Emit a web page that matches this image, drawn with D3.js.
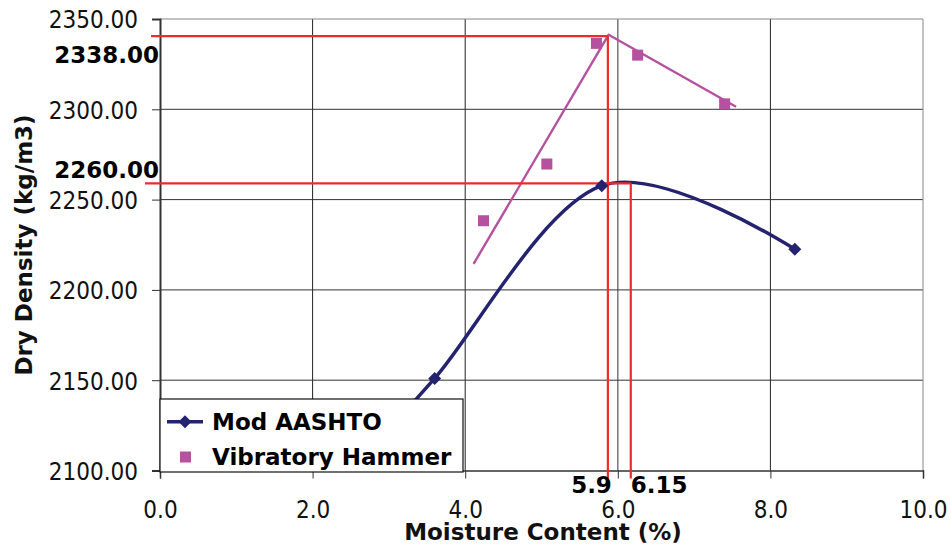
<!DOCTYPE html>
<html>
<head>
<meta charset="utf-8">
<script src="https://cdn.jsdelivr.net/npm/d3@7"></script>
<style>
  html, body { margin: 0; padding: 0; background: #fff; }
  svg { display: block; }
  text { font-family: "DejaVu Sans Condensed", "DejaVu Sans", sans-serif; font-stretch: condensed; }
  text.bold { font-family: "DejaVu Sans", sans-serif; font-stretch: normal; font-weight: bold; font-size: 23px; }
</style>
</head>
<body>
<svg id="chart" width="951" height="551"></svg>
<script>
// ---- data ----
const xTicks = [0, 2, 4, 6, 8, 10];
const yTicks = [2100, 2150, 2200, 2250, 2300, 2350];

const modX = [2.6, 3.6, 5.79, 8.32];
const modY = [2105, 2151, 2257.7, 2222.5];

const vibX = [4.24, 5.07, 5.72, 6.26, 7.40];
const vibY = [2238.3, 2269.7, 2336.5, 2330, 2303];

const vibTrendX = [4.11, 5.88, 7.55];
const vibTrendY = [2214.4, 2341.3, 2301.4];

const refYVal = [2340.5, 2259];
const refYLabels = ["2338.00", "2260.00"];
const refXVal = [5.87, 6.17];
const refXLabels = ["5.9", "6.15"];

const seriesNames = ["Mod AASHTO", "Vibratory Hammer"];

// ---- layout ----
const svg = d3.select("#chart");
const L = 160, R = 923, T = 19, B = 470.5;
const x = d3.scaleLinear().domain([0, 10]).range([L, R]);
const y = d3.scaleLinear().domain([2100, 2350]).range([B, T]);

const navy = "#232370";
const magenta = "#b5519f";
const red = "#f02a2a";

// gridlines
const g = svg.append("g");
g.selectAll("line.vg").data(xTicks.slice(1, -1)).enter().append("line")
  .attr("x1", d => x(d)).attr("x2", d => x(d)).attr("y1", T).attr("y2", B)
  .attr("stroke", d => d === 6 ? "#777" : "#222").attr("stroke-width", d => d === 6 ? 1.5 : 1);
g.selectAll("line.hg").data(yTicks.slice(1)).enter().append("line")
  .attr("x1", L).attr("x2", R).attr("y1", d => y(d)).attr("y2", d => y(d))
  .attr("stroke", d => d === 2350 ? "#888" : "#333").attr("stroke-width", 1);
g.append("line").attr("x1", R).attr("x2", R).attr("y1", T).attr("y2", B).attr("stroke", "#888");

// axes
const xAxis = d3.axisBottom(x).tickValues(xTicks).tickSize(8).tickFormat(d3.format(".1f"));
const yAxis = d3.axisLeft(y).tickValues(yTicks).tickSize(8).tickFormat(d3.format(".2f"));

const gx = svg.append("g").attr("transform", `translate(0,${B})`).call(xAxis);
gx.select(".domain").attr("stroke", "#333").attr("stroke-width", 1.5);
gx.selectAll(".tick line").attr("stroke", "#333");
gx.selectAll(".tick text").attr("font-size", 24).attr("fill", "#111").attr("y", 0).attr("dy", 0)
  .attr("transform", "translate(0,47)");

const gy = svg.append("g").attr("transform", `translate(${L},0)`).call(yAxis);
gy.select(".domain").attr("stroke", "#333").attr("stroke-width", 2);
gy.selectAll(".tick line").attr("stroke", "#333");
gy.selectAll(".tick text").attr("font-size", 24).attr("fill", "#111").attr("x", -22).attr("dy", "0.37em");

// axis titles
svg.append("text").attr("class", "bold").attr("x", 543).attr("y", 540).attr("text-anchor", "middle")
  .attr("fill", "#111").text("Moisture Content (%)");
svg.append("text").attr("class", "bold").attr("transform", "translate(32,245) rotate(-90)").attr("text-anchor", "middle")
  .attr("fill", "#111").text("Dry Density (kg/m3)");

// Mod AASHTO smooth line (clipped to plot)
svg.append("clipPath").attr("id", "plotclip").append("rect")
  .attr("x", L).attr("y", T).attr("width", R - L).attr("height", B - T);
const modData = modX.map((v, i) => [v, modY[i]]);
const line = d3.line().x(d => x(d[0])).y(d => y(d[1])).curve(d3.curveCardinal.tension(0));
svg.append("path").datum(modData).attr("d", line).attr("fill", "none")
  .attr("stroke", navy).attr("stroke-width", 3.5).attr("clip-path", "url(#plotclip)");

// Vibratory trend polyline
const trendData = vibTrendX.map((v, i) => [v, vibTrendY[i]]);
svg.append("path").datum(trendData)
  .attr("d", d3.line().x(d => x(d[0])).y(d => y(d[1])))
  .attr("fill", "none").attr("stroke", magenta).attr("stroke-width", 2.4).attr("stroke-linejoin", "round");

// red reference lines
const rg = svg.append("g").attr("stroke", red).attr("stroke-width", 2.2).attr("fill", "none");
rg.append("line").attr("x1", L - 9).attr("x2", x(refXVal[0])).attr("y1", y(refYVal[0])).attr("y2", y(refYVal[0]));
rg.append("line").attr("x1", x(refXVal[0])).attr("x2", x(refXVal[0])).attr("y1", y(refYVal[0])).attr("y2", B + 8);
rg.append("line").attr("x1", L - 15).attr("x2", x(refXVal[1])).attr("y1", y(refYVal[1])).attr("y2", y(refYVal[1]));
rg.append("line").attr("x1", x(refXVal[1])).attr("x2", x(refXVal[1])).attr("y1", y(refYVal[1])).attr("y2", B + 8);

// Mod AASHTO markers
const diamond = (cx, cy, r) => `M${cx},${cy - r}L${cx + r},${cy}L${cx},${cy + r}L${cx - r},${cy}Z`;
svg.append("g").attr("clip-path", "url(#plotclip)").selectAll("path").data(modData).enter().append("path")
  .attr("d", d => diamond(x(d[0]), y(d[1]), 6.5)).attr("fill", navy);

// Vibratory markers
const vibData = vibX.map((v, i) => [v, vibY[i]]);
svg.append("g").selectAll("rect").data(vibData).enter().append("rect")
  .attr("x", d => x(d[0]) - 5.5).attr("y", d => y(d[1]) - 5.5).attr("width", 11).attr("height", 11)
  .attr("fill", magenta);

// reference labels
svg.selectAll("text.refy").data(refYVal).enter().append("text").attr("class", "bold")
  .attr("x", 159).attr("y", (d, i) => i === 0 ? 63 : 178).attr("text-anchor", "end")
  .attr("fill", "#000").text((d, i) => refYLabels[i]);
svg.append("text").attr("class", "bold").attr("x", x(refXVal[0]) + 4).attr("y", 493).attr("text-anchor", "end")
  .attr("fill", "#000").text(refXLabels[0]);
svg.append("text").attr("class", "bold").attr("x", x(refXVal[1])).attr("y", 493).attr("text-anchor", "start")
  .attr("fill", "#000").text(refXLabels[1]);

// legend
const lg = svg.append("g");
lg.append("rect").attr("x", 160).attr("y", 399).attr("width", 303).attr("height", 73)
  .attr("fill", "#fff").attr("stroke", "#111").attr("stroke-width", 1.2);
lg.append("line").attr("x1", 167).attr("x2", 203).attr("y1", 421.7).attr("y2", 421.7)
  .attr("stroke", navy).attr("stroke-width", 3.5);
lg.append("path").attr("d", diamond(185, 421.7, 6.5)).attr("fill", navy);
lg.append("rect").attr("x", 180).attr("y", 451.5).attr("width", 11).attr("height", 11).attr("fill", magenta);
lg.selectAll("text.leg").data(seriesNames).enter().append("text").attr("class", "bold")
  .attr("x", 212).attr("y", (d, i) => i === 0 ? 429.5 : 465)
  .attr("fill", "#000").text(d => d);
</script>
</body>
</html>
